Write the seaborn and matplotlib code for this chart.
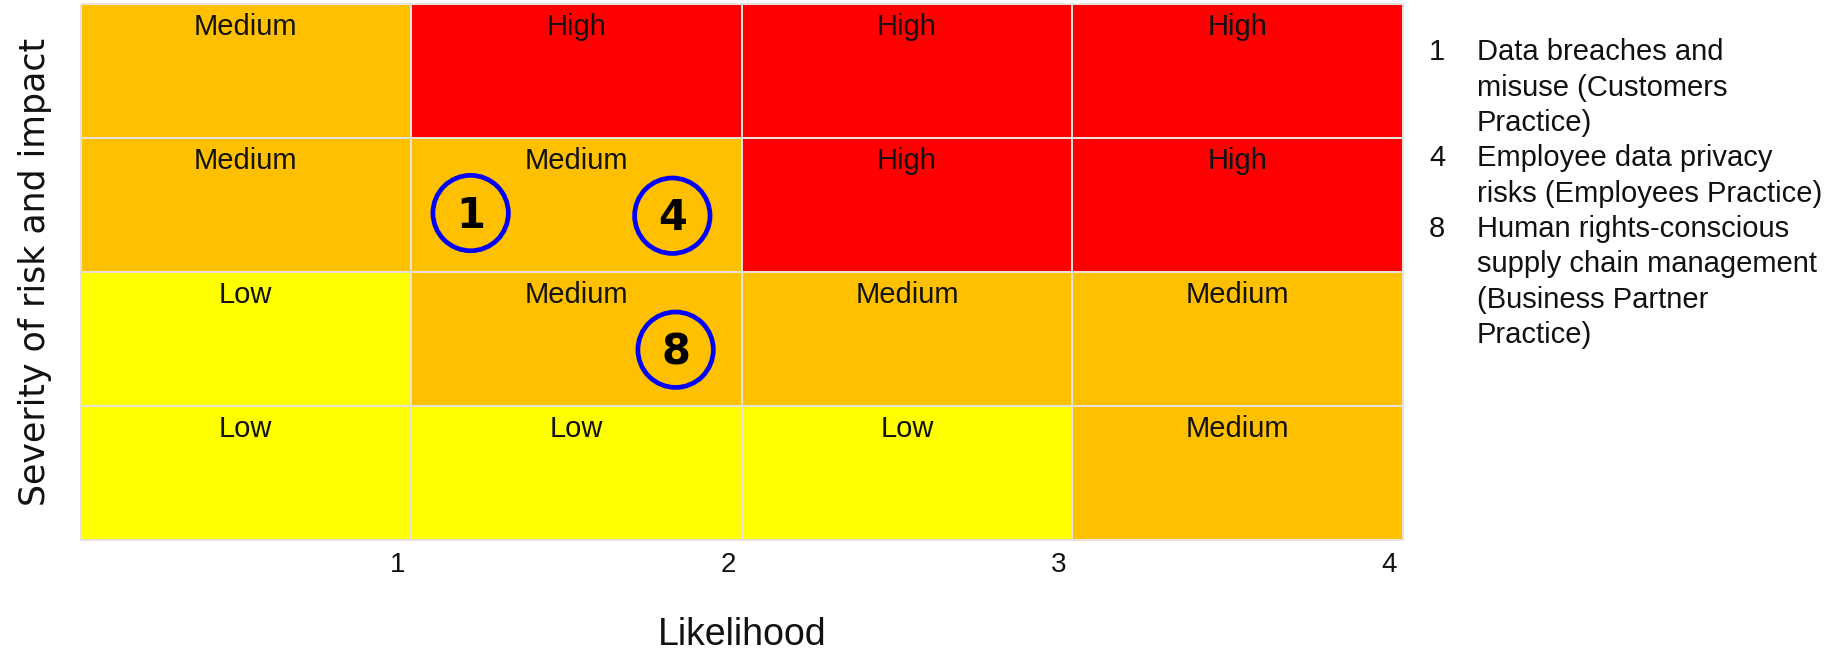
import matplotlib
matplotlib.use("Agg")
import matplotlib.pyplot as plt
from matplotlib.colors import ListedColormap
from matplotlib.transforms import ScaledTranslation
import pandas as pd
import seaborn as sns

# Risk matrix: rows run from highest severity (top) to lowest (bottom)
likelihood_ticks = ["1", "2", "3", "4"]
rating_names = ["Low", "Medium", "High"]
rating_colors = ["#FFFF00", "#FFC000", "#FF0000"]
matrix_ratings = [
    ["Medium", "High", "High", "High"],
    ["Medium", "Medium", "High", "High"],
    ["Low", "Medium", "Medium", "Medium"],
    ["Low", "Low", "Low", "Medium"],
]

# Assessed risks: likelihood (0-4, left to right) and severity (0-4, bottom to top)
risk_ids = ["1", "4", "8"]
risk_likelihood = [1.18, 1.79, 1.80]
risk_severity = [2.44, 2.42, 1.42]
risk_descriptions = [
    ["Data breaches and", "misuse (Customers", "Practice)"],
    ["Employee data privacy", "risks (Employees Practice)"],
    ["Human rights-conscious", "supply chain management",
     "(Business Partner", "Practice)"],
]

sns.set_theme(style="white")
plt.rcParams["font.family"] = ["Liberation Sans", "DejaVu Sans"]

W, H, DPI = 1833, 653, 100
fig = plt.figure(figsize=(W / DPI, H / DPI), dpi=DPI)
ax = fig.add_axes([80.5 / W, 1 - 540 / H, 1322.5 / W, 536 / H])

n_rows = len(matrix_ratings)
codes = pd.DataFrame([[rating_names.index(r) for r in row] for row in matrix_ratings])
sns.heatmap(codes, cmap=ListedColormap(rating_colors), vmin=-0.5, vmax=2.5,
            cbar=False, linewidths=1.3, linecolor="#E6E3DC", ax=ax)
ax.collections[0].set_clip_on(False)

# Rating names near the top of each cell
for i, row in enumerate(matrix_ratings):
    for j, rating in enumerate(row):
        ax.text(j + 0.5, i + 0.235, rating, ha="center", va="baseline",
                fontsize=21, color="#111111")

# Risk markers as open blue circles with bold ids
risk_y = [n_rows - s for s in risk_severity]
sns.scatterplot(x=risk_likelihood, y=risk_y, s=2950, marker="o",
                linewidth=3.4, ax=ax, zorder=5)
pts = ax.collections[-1]
pts.set_facecolor("none")
pts.set_edgecolor("#0000FF")
for rid, x, y in zip(risk_ids, risk_likelihood, risk_y):
    ax.text(x, y + 0.11, rid, ha="center", va="baseline", fontsize=30,
            fontweight="bold", family="DejaVu Sans", color="black", zorder=6)

ax.set_xlim(0, len(likelihood_ticks))
ax.set_ylim(n_rows, 0)
ax.set_xticks(range(1, len(likelihood_ticks) + 1))
ax.set_xticklabels(likelihood_ticks, fontsize=20, ha="right", color="#111111")
ax.set_yticks([])
ax.tick_params(axis="x", length=0, pad=8.6)
for lbl in ax.get_xticklabels():
    lbl.set_transform(lbl.get_transform() + ScaledTranslation(-0.06, 0, fig.dpi_scale_trans))

ax.set_xlabel("Likelihood", fontsize=27, color="#111111")
ax.xaxis.set_label_coords(0.5, (540 - 635) / 536)
ax.xaxis.label.set_va("center")
ax.set_ylabel("Severity of risk and impact", fontsize=25, family="DejaVu Sans",
              color="#111111")
ax.yaxis.set_label_coords((35 - 80.5) / 1322.5, 0.5)
ax.yaxis.label.set_va("center")
for sp in ax.spines.values():
    sp.set_visible(False)

# Key listing the risks next to the matrix
line_step = 35.3
k = 0
for rid, lines in zip(risk_ids, risk_descriptions):
    fig.text(1429 / W, 1 - (50 + line_step * k + 10.5) / H, rid,
             fontsize=21, va="baseline", ha="left", color="#111111")
    for line in lines:
        fig.text(1477 / W, 1 - (50 + line_step * k + 10.5) / H, line,
                 fontsize=21, va="baseline", ha="left", color="#111111")
        k += 1

fig.savefig("out.png", dpi=DPI)
